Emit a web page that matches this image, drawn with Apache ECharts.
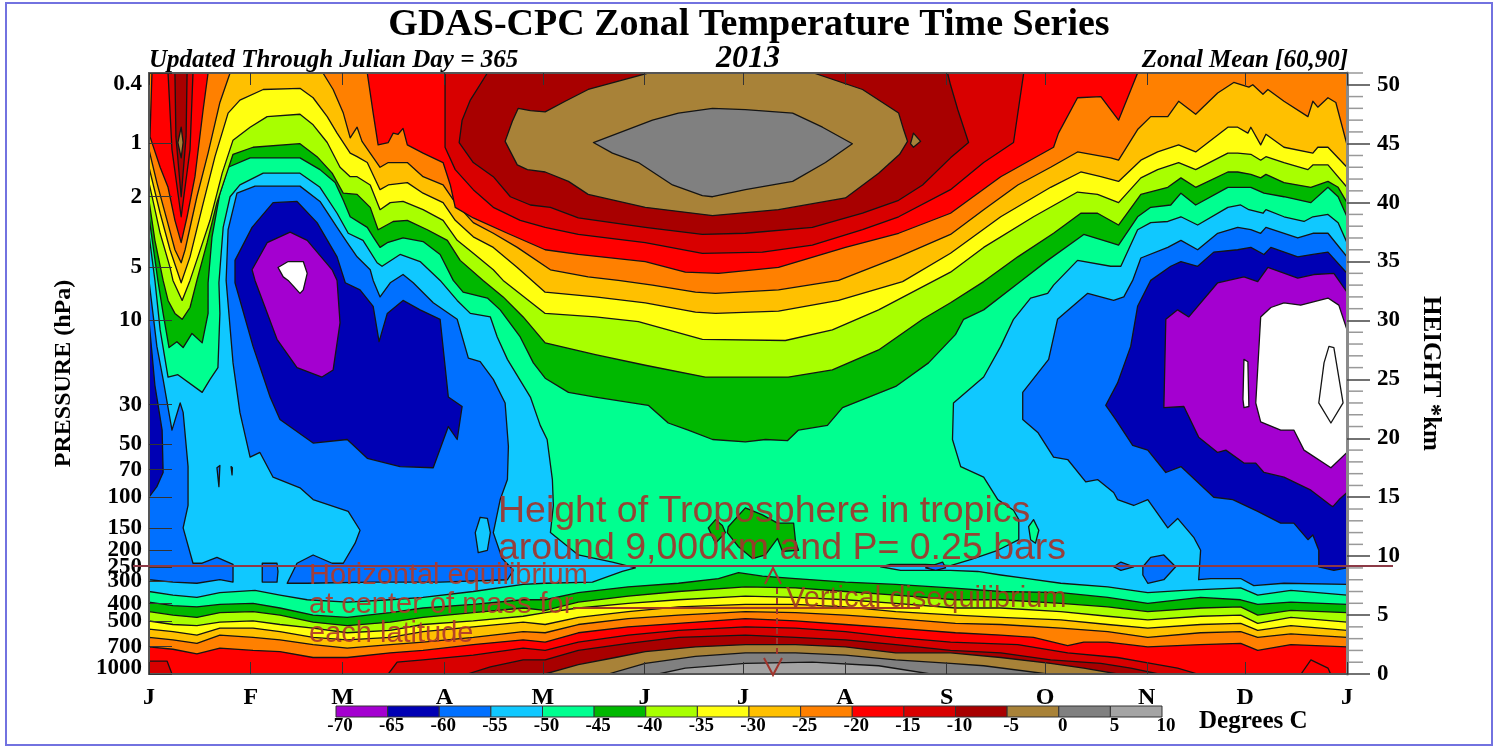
<!DOCTYPE html>
<html><head><meta charset="utf-8">
<style>html,body{margin:0;padding:0;background:#fff}#c{width:1499px;height:752px}</style>
<script src="https://cdn.jsdelivr.net/npm/echarts@6/dist/echarts.min.js"></script>
</head><body><div id="c"></div>
<script>
// Axis ticks
const monthDays = [0,31,59,90,120,151,181,212,243,273,304,334,365];
const monthLabels = ['J','F','M','A','M','J','J','A','S','O','N','D','J'];
const pressureTicks = [0.4,1,2,5,10,30,50,70,100,150,200,250,300,400,500,700,850,1000];
const heightMajor = [0,5,10,15,20,25,30,35,40,45,50];
const heightMinor = [1,2,3,4,6,7,8,9,11,12,13,14,16,17,18,19,21,22,23,24,26,27,28,29,31,32,33,34,36,37,38,39,41,42,43,44,46,47,48,49,51];
// Temperature bands: lower edge (deg C)
const bandEdges = [-70,-65,-60,-55,-50,-45,-40,-35,-30,-25,-20,-15,-10,-5,0,5];

// Contours: [day of year, height km]
const whole = [[0,0],[365,0],[365,51],[0,51]];
const upperM45 = [[0,38.8],[2.7,33.4],[4.3,30.6],[6.1,27.7],[8.5,28.2],[10.4,27.7],[13.1,28.9],[16.2,28.1],[18,30.6],[18,33.2],[19.2,37.1],[21.6,40.8],[24.1,43],[30.8,43.8],[46,43.8],[52.1,42.8],[56.7,41.7],[59.2,40.2],[61.3,38.8],[66.5,37.9],[68.3,37.1],[70.4,36.2],[72.6,36.6],[77.4,37],[83.5,36.7],[88.7,35.6],[92.7,33.4],[95.7,32.4],[103.1,31.9],[107,30.9],[113.1,28.6],[117.1,26.4],[120.7,25.1],[127.8,23.9],[136,23.5],[152.1,22.8],[158.2,21.3],[164.3,20.7],[171.7,19.9],[181.7,19.7],[187.8,19.9],[194.5,19.8],[197.9,20.7],[206.7,21.1],[211.3,22.6],[227.5,24.4],[237.5,26.4],[245.7,28.8],[248.2,30.1],[254.3,30.9],[265,33.2],[273.8,35.1],[284.8,37.3],[293,36.6],[295.4,36.4],[301.2,38.8],[305.2,39.6],[311.3,39.8],[314.4,40.8],[318.9,39.8],[328.7,41.3],[335.7,41.3],[339.7,40.8],[345.8,40.5],[354,40],[359.2,41.3],[362.3,40.5],[365,38.8],[365,51],[0,51]];
const upperM40 = [[0,40.2],[1.8,36.8],[4.3,33.4],[5.8,31.7],[7.9,30.6],[10.1,30.1],[12.5,31.1],[14.6,33.4],[17.7,36.6],[20.7,40],[25.6,44.1],[31.7,44.7],[46,45],[51.2,43.9],[55.8,42.5],[59.2,40.8],[63.4,40.7],[67.4,39.6],[69.8,37.7],[74.4,38.4],[78.7,38.5],[84.8,37.7],[90.9,36.8],[94.8,35.1],[101.8,33.4],[107.9,32],[114,30.3],[120.7,28.1],[136,27.1],[151.2,26.2],[169.5,25.2],[194.8,25.2],[208.2,25.8],[222.3,27.5],[235.7,30.1],[244.2,31.5],[254.3,33.3],[264.7,35.4],[275.6,37.4],[283.9,39.1],[289,39.1],[295.4,38.1],[302.2,40.7],[310.4,41.3],[314.4,42.1],[318.9,41.3],[328.7,42.6],[331.7,42.6],[335.7,42.4],[338.7,42.1],[340.3,42.4],[345.8,41.7],[354,41.3],[359.2,41.8],[362.3,41.3],[365,40],[365,51],[0,51]];
const upperM35 = [[0,41.7],[3.4,37.4],[6.4,34.5],[7.3,33.4],[10.1,31.7],[12.5,33.4],[14.9,35.4],[18.6,38.5],[22.3,42.5],[25.6,45.3],[30.8,46.4],[36,47.3],[46,47.5],[50,46.6],[54.3,45.1],[58.2,43],[61.3,42.2],[63.4,42.2],[67.4,41.5],[70.4,39.4],[73.5,40],[77.4,40.1],[83.5,39.4],[89.6,38.5],[93.9,36.8],[98.8,35.7],[104.9,34.3],[107.9,33.4],[120.7,30.6],[136,30.3],[149.1,29.9],[168.6,28.4],[193.9,28.3],[208.2,29.2],[222.3,30.9],[244.2,34.1],[254.3,36.2],[269.5,38.8],[282.9,40.9],[289,40.7],[295.4,40],[302.2,42.1],[307.3,42.8],[313.7,43.4],[318.9,42.8],[328.7,44.2],[331.7,44.2],[335.7,44.1],[338.7,43.6],[340.3,43.9],[345.8,43.4],[353.1,42.8],[354.6,43.2],[359.2,43.2],[365,41.3],[365,51],[0,51]];
const upperM30 = [[0,43],[3.4,39.1],[6.4,36],[9.8,33.2],[12.5,35.4],[16.2,39.6],[20.1,43.9],[24.1,47.6],[27.7,48.7],[34.8,49.6],[46,49.7],[50,48.9],[54.3,47.3],[57.3,45.9],[61.3,44.2],[63.4,43.9],[66.5,43.4],[70.4,41.1],[72.9,41.5],[78.7,41.7],[83.5,40.8],[89.6,40],[93.3,38.5],[98.8,37.1],[104.9,36.2],[112.2,34.5],[120.7,32.4],[136,32],[151.2,31.5],[166.5,30.7],[172.6,30.6],[191.8,30.8],[210.1,31.7],[229.6,33.3],[244.2,35.7],[259.5,38.8],[274.7,41.3],[283.9,42.6],[290,42.2],[295.4,41.8],[302.2,43.6],[307.3,44.3],[313.7,44.9],[318.9,44.3],[328.7,46.4],[331.7,46.4],[334.8,45.9],[335.7,46.4],[338.7,44.9],[340.3,45.8],[345.8,44.7],[354.6,44.2],[356.1,44.7],[359.2,44.7],[365,43],[365,51],[0,51]];
const upperM25a = [[0,44.5],[2.4,41.7],[5.5,38.5],[7.9,36],[9.8,34.9],[11,36],[14.6,40.5],[18,44.2],[21.6,48.5],[24.7,51],[0,51]];
const upperM25b = [[53,51],[56.1,49.6],[59.2,47.6],[61.3,45.5],[63.4,46.4],[64.9,45.2],[70.4,43],[72.9,43.4],[78.7,43.4],[83.5,42.2],[89.6,41.5],[93.3,40],[98.8,38.3],[104.9,37.4],[112.2,36.2],[122.3,34.3],[133.8,33.7],[143,33.4],[153.4,33],[166.5,32.4],[172.6,32.3],[191.8,32.6],[210.1,33.4],[228.4,35.4],[244.2,37.3],[254.3,39.4],[264.7,41.5],[274.7,43],[282.9,44.3],[293,43.8],[295.4,43.6],[301.2,46.2],[305.2,47.3],[310.4,47.3],[313.7,48.6],[318.9,47.5],[325.6,49.3],[330.5,50.2],[335.1,49.8],[336.3,50],[339.4,49.2],[340.9,49.6],[345.8,48.6],[353.1,47.3],[354.6,48.6],[356.1,48.1],[359.2,48.9],[361.6,48.5],[365,44.9],[365,51]];
const upperM20a = [[0.9,51],[0.3,45.6],[3.4,43],[5.8,41.3],[7.9,38.5],[9.8,36.6],[11.6,38.8],[14,42.2],[16.5,47.9],[18,51]];
const upperM20b = [[66.5,51],[68.3,47.6],[69.8,44.9],[72.9,45.1],[74.4,45.9],[75.9,45.8],[77.4,46.3],[78.7,44.9],[83.5,44.2],[89.6,43.4],[91.8,41.5],[93.3,39.6],[98.8,38.7],[109.2,37.4],[120.7,36],[130.8,35.6],[151.2,35],[163.4,34.1],[173.5,34],[191.8,34.5],[212.2,36.2],[228.4,37.4],[244.2,39.1],[259.5,42.2],[275.6,44.7],[277.1,45.9],[282.9,48.9],[290,49],[295.4,47],[301.2,51]];
const upperM15a = [[5.8,51],[7,44.5],[9.8,38.8],[12.5,44.5],[13.4,51]];
const upperM15b = [[90.2,51],[90.2,44.7],[93.3,42.8],[98.8,41.1],[104.9,39.6],[113.1,38.5],[120.7,37.9],[130.8,37.3],[151.2,36.6],[168.6,35.7],[186.9,35.8],[202.1,36.4],[217.4,37.7],[228.4,38.8],[244.2,41.1],[254.3,43.4],[263.4,45.1],[266.5,51]];
const upperM10a = [[7.9,51],[8.2,45.6],[9.8,40.5],[11.3,45.6],[11.6,51]];
const upperM10b = [[103.1,51],[97.9,48.7],[95.4,47],[94.5,45.1],[98.8,43.4],[104.9,42.2],[110.1,40.5],[116.2,39.8],[122.3,39.6],[130.8,38.7],[151.2,37.9],[168.6,37.3],[181.7,37.4],[202.1,37.9],[217.4,39.1],[228.4,40.2],[235.7,41.5],[244.2,43.8],[249.7,45.1],[246.4,47.9],[244.2,50],[243.3,51]];
const upperM5a = [[9.8,46.4],[10.4,45.1],[9.8,43.8],[8.8,45.1]];
const upperM5b = [[108.5,45.2],[110.7,46.9],[112.5,48],[116.2,47.8],[120.7,47.7],[126.8,48.6],[133.8,49.6],[144.2,50.4],[152.1,51],[202.5,51],[217.4,49.6],[228.4,47.6],[229.9,46.2],[231.1,45.2],[228.7,44.1],[222.3,42.5],[212.2,40.4],[191.8,39.4],[171.7,38.9],[151.2,39.6],[133.8,40.7],[127.8,41.8],[120.7,42.6],[115.3,42.8],[112.2,43.2]];
const upperM5c = [[232.9,45.9],[235.1,45.2],[232.9,44.7],[232,45]];
const upperZero = [[135.4,45.1],[153.4,47],[161.3,47.6],[171.7,48],[181.7,47.9],[196.1,47.6],[205.2,46.4],[214.3,45],[206.1,43.4],[196.1,41.8],[181.7,41.1],[171.7,40.5],[168.6,40.6],[159.5,41.5],[149.1,43.4],[141.2,44.2]];

const coldLeftM50 = [[0,37.3],[1.8,33.4],[3.4,29.2],[5.8,25.2],[8.8,25.4],[16.2,23.9],[18.6,25],[21,26],[21.6,30.6],[21.3,33.2],[22.6,37.9],[24.7,40.5],[27.7,41.5],[34.8,42.5],[46,42.5],[52.1,41.3],[57.3,39.1],[60.7,37.4],[65.2,36.8],[69.5,34.9],[71,34.6],[76.5,35.6],[82.6,35],[88.7,33.4],[93.9,31.7],[97.9,30.6],[104,30.3],[106.1,28.6],[109.2,26.7],[116.2,23.5],[119.2,21.1],[121.3,19.9],[122.9,16.5],[123.2,14.3],[122.3,12],[130.8,10.1],[141.2,9.5],[148.2,9],[144.2,8.7],[135.1,7.8],[120.7,7.7],[114,7.6],[98.8,7],[83.5,6.5],[73.5,6.3],[60.4,6.1],[48.2,6.3],[39.9,6.7],[32.3,7.1],[21.6,6.9],[14.6,6.5],[7.3,6.7],[0,7]];
const coldRightM50 = [[275.6,33],[282.9,35.1],[293,34.6],[296.1,34.6],[301.2,37.7],[305.2,38.3],[310.4,38.4],[314.4,38.8],[319.5,38.1],[328.7,39.6],[332.6,39.8],[335.1,39.4],[339.4,39.1],[340.3,39.4],[345.8,38.8],[351.9,38.4],[354.6,38.8],[359.2,39],[362.3,38.3],[365,36.6],[365,6.7],[347.9,7.1],[337.8,6.7],[332.6,7.3],[315.3,7.1],[304.3,6.9],[292.1,7.4],[277.8,7.7],[267.7,8.1],[259.5,8.4],[252.5,8.7],[244.2,8.8],[236.6,8.8],[229,8.8],[222.9,9.1],[225.9,9.3],[236.6,9.3],[244.2,9.2],[250.3,9.7],[258.6,10.5],[265,11.4],[265,13.1],[263.4,13.9],[258.6,14.8],[254.3,16.7],[247.3,17.6],[244.8,19.9],[245.1,23],[254.3,25.2],[259.5,27.8],[263.4,30.1],[268.6,31.9],[273.8,32.3]];
const tealOval = [[268,12.5],[269.5,13.1],[271.1,12.2],[270.1,11.1],[268.6,11.4]];
const blueStrip = [[0,33.4],[2.4,27.8],[4.3,25],[7,20.7],[9.5,23],[10.4,22.2],[11.9,17.6],[11.9,14.3],[10.4,12.4],[13.4,9.4],[16.2,9.4],[20.7,9.9],[25.6,9.3],[25.6,7.8],[21.6,8],[14.6,7.7],[7.3,7.8],[0,8]];
const bluePatchA = [[34.5,9.4],[39,9.4],[39.3,8.7],[39,7.8],[34.5,7.8]];
const blueLeftM55 = [[23.5,33.4],[24.1,37.7],[26.8,40.8],[32.3,41.4],[46,41.4],[52.1,40.1],[57.3,37.9],[60.4,36.6],[63.4,35.4],[67.4,34.3],[68.3,33.4],[70.4,32],[73.5,33.2],[77.4,33.9],[80.5,33.2],[86.6,31.5],[93.9,30.1],[97.3,26.8],[100.9,26.5],[104.9,25],[108.5,23],[109.5,19.3],[109.2,16.5],[107,14.8],[104.9,12],[107.6,9.8],[111,8.8],[109.2,8],[88.7,7.8],[68.3,7.8],[48.2,7.7],[42.1,7.7],[45.1,9.4],[50,10.1],[55.8,9.4],[59.2,9.4],[62.8,11.1],[64.3,12.2],[60.7,13.8],[50,14.8],[46,15.8],[37.8,16.7],[33.8,18.8],[30.8,18.4],[27.7,22.2],[25.6,26.4]];
const lightOval = [[99.4,12],[100.9,13.3],[103.1,13.2],[104,12],[103.1,10.5],[100.3,10.3]];
const speckA = [[20.7,17.5],[21.6,17.7],[21.3,15.9]];
const speckB = [[25,17.6],[25.4,17.5],[25.3,16.9]];
const blueRightM55 = [[286,32.3],[293.9,31.7],[297,32],[299.7,33.4],[302.2,35.3],[310.4,36.2],[314.4,36.8],[319.5,36],[325.6,37.4],[331.7,37.9],[335.7,37.7],[338.7,37.4],[340.3,37.9],[350,37],[354.6,37.4],[359.2,37.4],[365,35.4],[365,7.6],[345.8,7.7],[336.6,7.5],[332.6,8.1],[323.5,8.1],[319.8,8],[320.4,10.5],[318.3,11.6],[313.4,13.2],[310.4,12.4],[304.3,14.8],[300,14.3],[295.1,14.8],[293.9,15.4],[289,16.5],[285.4,16.3],[279.9,18.2],[275.6,18.4],[270.8,20.5],[266.2,21.6],[266.2,23.9],[274.1,26.7],[276.8,30.1]];
const bluePatchB = [[302.8,9.1],[305.2,9.9],[309.2,10.1],[312.8,9.1],[309.2,8],[304.3,7.7],[302.8,8.4]];
const bluePatchC = [[293.9,9.1],[296.1,9.5],[300,9.1],[296.1,8.8]];
const bluePatchD = [[236.6,9],[239.7,9.3],[241.8,9.5],[242.7,9],[239.7,8.8]];
const darkStrip = [[0,30],[1.8,24.5],[4,20.7],[4.3,17.1],[2.4,15.9],[0,15]];
const darkLeftM60 = [[26.2,35.1],[31.4,37.9],[37.8,40],[45.1,40.1],[51.2,38.3],[57.3,35.4],[59.8,33.2],[64.3,32.6],[68.3,31.2],[70.1,28.2],[72.6,30.6],[77.4,31.7],[82.6,30.9],[88.7,30.1],[91.2,23.5],[95.4,22.7],[93.9,19.9],[91.2,21],[86.6,17.5],[76.5,17.6],[66.5,18.3],[60.4,19.9],[50,19.6],[39.9,21.6],[36.9,23.5],[31.7,27.8],[26.2,33.2]];
const darkRightM60 = [[305.2,33.4],[311.3,34.6],[314.4,35],[319.5,34.6],[324.4,35.8],[331.7,36],[335.7,36.2],[339.7,35.6],[341.8,36.2],[350,35.4],[354.6,35.6],[359.2,35.8],[365,34],[365,9],[361,8.8],[356.4,9.1],[356.4,10.5],[354.6,11.8],[353.1,11.4],[348.8,12.8],[344.8,12.8],[337.8,13.8],[330.2,14.8],[324.4,15],[314.4,17.6],[309.8,17.1],[304.3,19],[299.7,19.4],[294.5,21.6],[291.5,22.8],[295.1,24.7],[299.1,27.8],[301.2,31.2]];
const purpleLeftM65 = [[31.4,34.3],[36,36.6],[43,37.5],[48.2,36.8],[55.8,34.3],[57.3,33.4],[58.2,29.8],[56.1,25.8],[52.7,25.2],[45.1,26],[39,28.4],[32.3,33.4]];
const purpleRightM65 = [[325.6,33.2],[333.6,33.7],[337.8,33.3],[340.9,34.5],[350,33.6],[354.9,33.9],[361,34],[365,32.4],[365,15.4],[362.6,14.8],[360.7,14.2],[360.1,14.3],[354,15.6],[345.8,16.7],[339.7,17.1],[337.2,17.9],[333.6,17.9],[328.1,19],[325.6,18.8],[319.8,20.1],[315.3,22.7],[309.2,22.6],[309.8,30.1],[313.4,30.9],[316.8,30.3]];
const whiteLeftM70 = [[39.3,34.5],[42.4,35],[47,35],[48.2,34],[47,32.6],[46,32.3],[42.4,33.4],[40.9,33.7]];
const whiteRightM70 = [[337.2,23],[338.7,30.3],[341.8,31.1],[345.8,31.5],[350.9,31.3],[359.2,31.9],[362.5,31.3],[365,29.2],[365,18.8],[360.1,17.5],[351.9,19],[348.8,20.7],[344.8,20.7],[338.7,21.4]];
const whiteStrip = [[333.6,26.7],[334.8,26.5],[335.1,22.7],[333.6,22.6],[333.3,23.3]];
const whiteLoop = [[356.4,23],[358,26.4],[359.5,27.8],[361,27.7],[363.8,23],[360.1,21.3]];
const greenPatchA = [[176.5,12.5],[181.7,14.1],[186.9,13.5],[191.5,12.8],[196.4,12.8],[197,11.2],[197.9,10.5],[193,10.4],[191.5,11.5],[187.8,10.1],[183.9,9.8],[179.6,10.8],[176.2,12]];
const greenPatchB = [[170.4,12.4],[172.6,13.1],[174.7,12.6],[175.6,12],[172.6,11.1]];

const lowerM45 = [[0,6.1],[7.3,5.8],[14.6,5.7],[21.6,5.9],[31.7,6],[39.9,5.6],[50,5],[60.4,4.8],[73.5,5.2],[83.5,5.6],[98.8,5.9],[114,6.3],[120.7,6.3],[130.8,6.9],[146,7.4],[161.3,7.7],[173.5,8.1],[179.6,8.6],[186.9,8.3],[197,8.1],[212.2,7.8],[227.5,7.6],[244.2,7.3],[259.5,7],[277.8,6.9],[292.1,6.5],[304.3,6],[320.4,6.5],[332.6,6.3],[337.8,5.9],[347.9,6.1],[365,5.9],[365,0],[0,0]];
const lowerM40 = [[0,5.3],[7.3,5],[14.6,4.8],[21.6,5.2],[31.7,5.3],[39.9,5],[50,4.4],[60.4,4.1],[73.5,4.4],[83.5,4.8],[98.8,5.2],[114,5.6],[120.7,5.4],[130.8,6.1],[146,6.6],[161.3,7],[181.7,7.4],[197,7.3],[212.2,7],[227.5,6.7],[245.7,6.3],[259.5,6.3],[277.8,6],[292.1,5.7],[304.3,5.3],[320.4,5.6],[332.6,5.7],[337.8,5],[347.9,5.4],[365,5.2],[365,0],[0,0]];
const lowerM35 = [[0,4.5],[7.3,4.2],[14.6,4.1],[21.6,4.4],[31.7,4.5],[39.9,4.2],[50,3.9],[60.4,3.5],[73.5,3.7],[83.5,4.2],[98.8,4.5],[114,4.9],[120.7,5.2],[130.8,5.6],[146,6],[161.3,6.3],[181.7,6.6],[197,6.5],[212.2,6.3],[227.5,6],[245.7,5.6],[259.5,5.6],[277.8,5.3],[292.1,4.9],[304.3,4.6],[320.4,4.9],[332.6,5],[337.8,4.3],[347.9,4.8],[365,4.4],[365,0],[0,0]];
const lowerM30 = [[0,3.8],[7.3,3.6],[14.6,3.3],[21.6,3.9],[31.7,3.9],[39.9,3.6],[50,3.1],[60.4,2.9],[73.5,3.1],[83.5,3.6],[98.8,4],[114,4.4],[120.7,4.2],[130.8,4.8],[146,5.3],[161.3,5.7],[181.7,5.9],[197,5.9],[212.2,5.7],[227.5,5.3],[245.7,5],[259.5,4.8],[277.8,4.6],[292.1,4.2],[304.3,3.9],[320.4,4.2],[332.6,4.3],[337.8,3.7],[347.9,4.1],[365,3.7],[365,0],[0,0]];
const lowerM25 = [[0,3.1],[7.3,2.9],[14.6,2.6],[21.6,3.3],[31.7,3.1],[39.9,2.9],[50,2.5],[60.4,2.2],[73.5,2.5],[83.5,2.7],[98.8,3.1],[114,3.6],[120.7,3.5],[130.8,4.2],[146,4.7],[161.3,5],[181.7,5.3],[197,5.2],[212.2,5],[227.5,4.7],[245.7,4.3],[259.5,4.2],[277.8,3.9],[292.1,3.6],[304.3,3.1],[320.4,3.5],[332.6,3.6],[337.8,3.1],[347.9,3.4],[365,3.1],[365,0],[0,0]];
const lowerM20 = [[0,2.3],[7.3,2.1],[14.6,1.7],[21.6,2.2],[31.7,2],[39.9,1.9],[50,1.4],[60.4,1.4],[73.5,1.8],[83.5,2],[98.8,2.5],[114,2.9],[120.7,2.7],[130.8,3.5],[146,4],[161.3,4.3],[181.7,4.7],[197,4.5],[212.2,4.2],[227.5,3.9],[245.7,3.5],[259.5,3.3],[269.5,3.1],[279.9,2.4],[284.8,2.7],[292.1,2.7],[304.3,2.3],[320.4,2.5],[332.6,2.6],[337.8,2],[347.9,2.5],[365,2.3],[365,0],[0,0]];
const lowerM15a = [[0,1.1],[5.5,1.1],[7,0],[0,0]];
const lowerM15b = [[72.9,0],[75.6,1],[83.5,1.2],[98.8,1.6],[114,2.2],[120.7,2],[130.8,2.7],[146,3.3],[161.3,3.7],[181.7,4],[197,3.9],[212.2,3.6],[227.5,3.1],[244.2,2.7],[264.7,2.5],[279.9,1.8],[295.1,1.4],[305.2,0.9],[313.4,0.5],[319.5,0]];
const lowerM20bump = [[351,0],[354,1.2],[359.2,0.5],[360,0]];
const lowerM10 = [[97,0],[104,0.6],[114,1.2],[120.7,1.2],[130.8,2],[146,2.6],[161.3,3.1],[181.7,3.3],[197,3.1],[212.2,2.9],[227.5,2.5],[244.2,2],[259.5,1.8],[274.7,1.2],[290,0.9],[299.1,0.5],[307.6,0]];
const lowerM5 = [[120.7,0],[130.8,0.8],[142.1,1.4],[151.2,1.9],[166.5,2.3],[181.7,2.5],[197,2.5],[212.2,2.3],[227.5,1.8],[244.2,1.8],[259.5,1.4],[274.7,0.9],[284.8,0.5],[295.1,0]];
const lowerZero = [[139.9,0],[151.2,0.9],[166.5,1.5],[181.7,1.8],[197,1.8],[212.2,1.6],[227.5,1.2],[244.2,0.9],[254.3,0.7],[273.8,0]];
const lowerFive = [[155.2,0],[163.4,0.5],[181.7,0.9],[202.1,1],[222.3,0.7],[238.1,0]];

// paint order: [band lower edge, contour]
const layers = [
 [-50,whole],
 [-45,upperM45],[-40,upperM40],[-35,upperM35],[-30,upperM30],
 [-25,upperM25a],[-25,upperM25b],[-20,upperM20a],[-20,upperM20b],
 [-15,upperM15a],[-15,upperM15b],[-10,upperM10a],[-10,upperM10b],
 [-5,upperM5a],[-5,upperM5b],[-5,upperM5c],[0,upperZero],
 [-55,coldLeftM50],[-55,coldRightM50],[-50,tealOval],
 [-60,blueStrip],[-60,bluePatchA],[-60,blueLeftM55],[-55,lightOval],[-60,speckA],[-60,speckB],
 [-60,blueRightM55],[-60,bluePatchB],[-60,bluePatchC],[-60,bluePatchD],
 [-65,darkStrip],[-65,darkLeftM60],[-65,darkRightM60],
 [-70,purpleLeftM65],[-70,purpleRightM65],
 [-75,whiteLeftM70],[-75,whiteRightM70],[-75,whiteStrip],[-75,whiteLoop],
 [-45,greenPatchA],[-45,greenPatchB],
 [-45,lowerM45],[-40,lowerM40],[-35,lowerM35],[-30,lowerM30],[-25,lowerM25],[-20,lowerM20],
 [-15,lowerM15a],[-15,lowerM15b],[-20,lowerM20bump],[-10,lowerM10],[-5,lowerM5],[0,lowerZero],[5,lowerFive]
];

const colors = {'-75':'#ffffff','-70':'#a400d0','-65':'#0000b4','-60':'#0070ff','-55':'#10c8ff','-50':'#00ff90','-45':'#00b800','-40':'#a8ff00','-35':'#ffff10','-30':'#ffc000','-25':'#ff8000','-20':'#ff0000','-15':'#d80000','-10':'#a80000','-5':'#a88238','0':'#808080','5':'#a4a4a4'};

const serif = '"Liberation Serif", serif';
const sans = '"Liberation Sans", Arial, sans-serif';
const ann = '#a2342c';
const txt = (x,y,text,size,color) => ({type:'text',z:200,x,y,style:{text,fill:color,font:size+'px '+sans,verticalAlign:'middle',opacity:0.92}});
const ln = (pts,color,w,dash) => ({type:'polyline',z:199,shape:{points:pts},style:{stroke:color,lineWidth:w,fill:null,lineDash:dash||null}});
const pLogs = pressureTicks.map(Math.log10);
const labelStyle = {fontFamily:serif,fontWeight:'bold',fontSize:23,color:'#000'};

const chart = echarts.init(document.getElementById('c'),null,{renderer:'canvas'});
const spine = {show:true,onZero:false,lineStyle:{color:'#555',width:2}};
chart.setOption({
 animation:false,
 backgroundColor:'#fff',
 title:[
  {text:'GDAS-CPC Zonal Temperature Time Series',left:749,top:6,padding:0,textAlign:'center',textStyle:{fontFamily:serif,fontWeight:'bold',fontSize:38,color:'#000'}},
  {text:'Updated Through Julian Day = 365',left:149,top:48,padding:0,textStyle:{fontFamily:serif,fontWeight:'bold',fontStyle:'italic',fontSize:25,color:'#000'}},
  {text:'2013',left:748,top:43,padding:0,textAlign:'center',textStyle:{fontFamily:serif,fontWeight:'bold',fontStyle:'italic',fontSize:32,color:'#000'}},
  {text:'Zonal Mean [60,90]',left:1348,top:48,padding:0,textAlign:'right',textStyle:{fontFamily:serif,fontWeight:'bold',fontStyle:'italic',fontSize:25,color:'#000'}}
 ],
 grid:[
  {left:149,top:73,width:1198,height:601},
  {left:336,top:706,width:826,height:11}
 ],
 xAxis:[
  {gridIndex:0,type:'value',min:0,max:365,position:'bottom',z:20,splitLine:{show:false},axisLine:spine,
   axisTick:{inside:true,length:12,customValues:monthDays,lineStyle:{color:'#333',width:1}},
   axisLabel:{customValues:monthDays,margin:12,formatter:(v)=>monthLabels[monthDays.indexOf(v)],fontFamily:serif,fontWeight:'bold',fontSize:24,color:'#000'}},
  {gridIndex:0,type:'value',min:0,max:365,position:'top',z:20,splitLine:{show:false},axisLine:spine,
   axisTick:{inside:true,length:12,customValues:monthDays,lineStyle:{color:'#333',width:1}},axisLabel:{show:false}},
  {gridIndex:1,type:'value',min:-70,max:10,interval:5,position:'bottom',splitLine:{show:false},axisLine:{show:false},axisTick:{show:false},
   axisLabel:{margin:0,padding:[0,0,0,8],showMinLabel:true,showMaxLabel:true,fontFamily:serif,fontWeight:'bold',fontSize:19,color:'#000'}}
 ],
 yAxis:[
  {gridIndex:0,type:'value',inverse:true,min:Math.log10(0.4),max:3,position:'left',z:20,splitLine:{show:false},axisLine:spine,
   name:'PRESSURE (hPa)',nameLocation:'middle',nameGap:73,nameRotate:90,nameTextStyle:{fontFamily:serif,fontWeight:'bold',fontSize:24,color:'#000'},
   axisTick:{inside:true,length:23,customValues:pLogs,lineStyle:{color:'#333',width:1}},
   axisLabel:Object.assign({customValues:pLogs,margin:7,hideOverlap:false,showMinLabel:true,showMaxLabel:true,verticalAlignMinLabel:'top',verticalAlignMaxLabel:'middle',
    rich:{raised:Object.assign({padding:[0,0,12,0]},labelStyle)},
    formatter:(v)=>{const p=pressureTicks[pLogs.findIndex(t=>Math.abs(t-v)<1e-6)];return p===1000?'{raised|1000}':String(p);}},labelStyle)},
  {gridIndex:0,type:'value',min:0,max:51,position:'right',z:20,splitLine:{show:false},axisLine:{show:true,onZero:false,lineStyle:{color:'#8a8a8a',width:3}},
   name:'HEIGHT *km',nameLocation:'middle',nameGap:71,nameRotate:-90,nameTextStyle:{fontFamily:serif,fontWeight:'bold',fontSize:25,color:'#000'},
   axisTick:{length:23,customValues:heightMajor,lineStyle:{color:'#444',width:1.5}},
   axisLabel:Object.assign({customValues:heightMajor,margin:30,padding:[0,0,16,0]},labelStyle)},
  {gridIndex:1,type:'value',min:0,max:1,show:false}
 ],
 series:[
  {type:'custom',xAxisIndex:0,yAxisIndex:1,clip:true,z:2,silent:true,
   data:layers.map((l,i)=>[l[1][0][0],l[1][0][1],i]),
   encode:{x:0,y:1},
   renderItem:(p,api)=>{
    const l=layers[api.value(2)];
    return {type:'polygon',shape:{points:l[1].map(q=>api.coord(q))},style:{fill:colors[l[0]],stroke:'#141414',lineWidth:1.3,lineJoin:'round'}};
   }},
  {type:'custom',xAxisIndex:0,yAxisIndex:1,clip:false,z:3,silent:true,
   data:heightMinor.map(h=>[365,h]),encode:{x:0,y:1},
   renderItem:(p,api)=>{
    const a=api.coord([api.value(0),api.value(1)]);
    return {type:'line',shape:{x1:a[0]+1,y1:a[1],x2:a[0]+16,y2:a[1]},style:{stroke:'#999',lineWidth:1.5}};
   }},
  {type:'custom',xAxisIndex:2,yAxisIndex:2,z:2,silent:true,
   data:bandEdges.map(b=>[b]),encode:{x:0},
   renderItem:(p,api)=>{
    const b=api.value(0),a=api.coord([b,1]),c=api.coord([b+5,0]);
    return {type:'rect',shape:{x:a[0],y:a[1],width:c[0]-a[0],height:c[1]-a[1]},style:{fill:colors[b],stroke:'#333',lineWidth:1}};
   }}
 ],
 graphic:[
  {type:'rect',z:1,silent:true,shape:{x:6,y:3,width:1486,height:742},style:{fill:null,stroke:'#7272e0',lineWidth:2}},
  {type:'text',z:200,x:1199,y:722,style:{text:'Degrees C',font:'bold 25px '+serif,fill:'#000',verticalAlign:'middle'}},
  txt(498,512,'Height of Troposphere in tropics',37.5,ann),
  txt(498,549,'around 9,000km and P= 0.25 bars',37.5,ann),
  txt(309,576,'Horizontal equilibrium',29,'#b03a2a'),
  txt(309,605,'at center of mass for',29,'#b03a2a'),
  txt(309,634,'each latitude',29,'#b03a2a'),
  txt(786,599,'Vertical disequilibrium',29,'#a03a20'),
  ln([[133,566],[1393,566]],'#8c3a46',2),
  ln([[573,608],[920,608]],'#a03a20',2),
  ln([[777,588],[777,655]],'#a0342c',2,[6,4]),
  ln([[765,584],[773,568],[781,584]],'#a0342c',2),
  ln([[764,658],[773,675],[782,658]],'#a0342c',2)
 ]
});
</script></body></html>
